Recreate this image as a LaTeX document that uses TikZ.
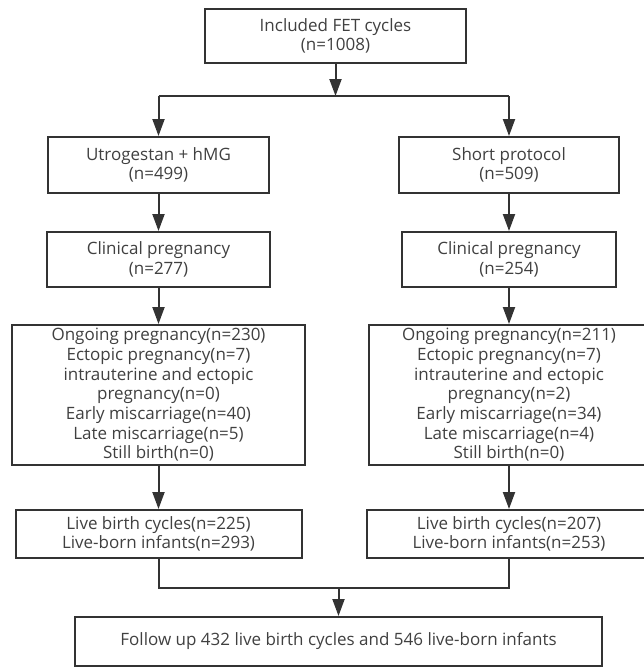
\documentclass[tikz,border=0pt]{standalone}
\usepackage{fontspec}
\setmainfont{Open Sans}
\usepackage{tikz}
\usetikzlibrary{arrows.meta,positioning,calc}
\definecolor{linegray}{HTML}{333333}
\definecolor{textgray}{HTML}{404040}

\begin{document}
\begin{tikzpicture}[
    x=1pt, y=-1pt,
    box/.style={rectangle, draw=linegray, line width=2pt, text=textgray, align=center, inner sep=0pt, font=\fontsize{17}{19.7}\selectfont},
    arr/.style={draw=linegray, line width=2pt, -{Triangle[length=17pt, width=12pt]}},
    link/.style={draw=linegray, line width=2pt}
]
    \useasboundingbox (0,0) rectangle (643,667);

    % Included cycles
    \node[box, minimum width=261pt, minimum height=54pt] (incl) at (335.5, 36) {Included FET cycles\\(n=1008)};
    \coordinate (split) at (335.5, 96);
    \coordinate (splitL) at (158.5, 96);
    \coordinate (splitR) at (509, 96);

    % Left branch
    \node[box, minimum width=221pt, minimum height=56pt] (utro) at (158.5, 165) {Utrogestan + hMG\\(n=499)};
    \node[box, minimum width=223pt, minimum height=55pt] (cpL) at (158.5, 259.5) {Clinical pregnancy\\(n=277)};
    \node[box, minimum width=293pt, minimum height=140pt] (outL) at (158.5, 395) {Ongoing pregnancy(n=230)\\Ectopic pregnancy(n=7)\\intrauterine and ectopic\\pregnancy(n=0)\\Early miscarriage(n=40)\\Late miscarriage(n=5)\\Still birth(n=0)};
    \node[box, minimum width=286pt, minimum height=48pt] (lbL) at (158.5, 534) {Live birth cycles(n=225)\\Live-born infants(n=293)};

    % Right branch
    \node[box, minimum width=220pt, minimum height=56pt] (short) at (509, 165) {Short protocol\\(n=509)};
    \node[box, minimum width=214pt, minimum height=55pt] (cpR) at (509, 259.5) {Clinical pregnancy\\(n=254)};
    \node[box, minimum width=280pt, minimum height=140pt] (outR) at (509, 395) {Ongoing pregnancy(n=211)\\Ectopic pregnancy(n=7)\\intrauterine and ectopic\\pregnancy(n=2)\\Early miscarriage(n=34)\\Late miscarriage(n=4)\\Still birth(n=0)};
    \node[box, minimum width=284pt, minimum height=48pt] (lbR) at (509, 534) {Live birth cycles(n=207)\\Live-born infants(n=253)};

    % Follow up
    \coordinate (merge) at (338.5, 588);
    \node[box, minimum width=527pt, minimum height=49pt] (follow) at (338.5, 641.5) {Follow up 432 live birth cycles and 546 live-born infants};

    % Connectors
    \draw[arr] (incl) -- (split);
    \draw[link] (splitL) -- (splitR);
    \draw[arr] (splitL) -- (utro);
    \draw[arr] (splitR) -- (short);
    \draw[arr] (utro) -- (cpL);
    \draw[arr] (short) -- (cpR);
    \draw[arr] (cpL) -- (outL);
    \draw[arr] (cpR) -- (outR);
    \draw[arr] (outL) -- (lbL);
    \draw[arr] (outR) -- (lbR);
    \draw[link] (lbL.south) |- (merge) -| (lbR.south);
    \draw[arr] (merge) -- (follow);
\end{tikzpicture}
\end{document}
